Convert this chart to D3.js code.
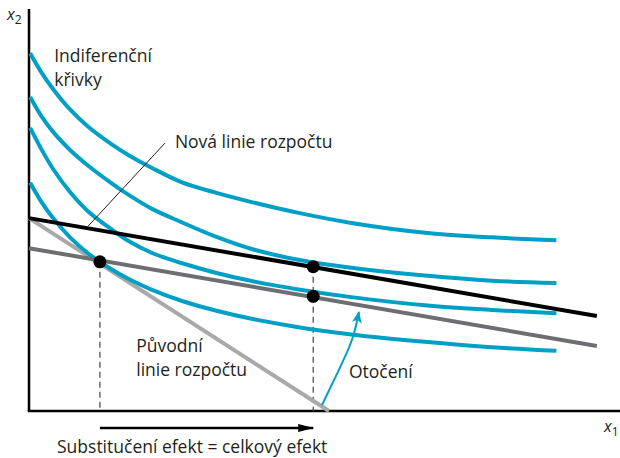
<!DOCTYPE html>
<html>
<head>
<meta charset="utf-8">
<script src="https://cdn.jsdelivr.net/npm/d3@7"></script>
<style>
  body { margin: 0; background: #fff; }
  text { font-family: "Open Sans", sans-serif; fill: #231f20; }
</style>
</head>
<body>
<div class="chart"></div>
<script>
var w = 620,
  h = 458,
  blue = '#00a0c6';

// shared x grid for the indifference curves (x1 units)
var curveX = [0.02, 0.2, 0.4, 0.7, 1.0, 1.4, 1.7, 2.1, 2.6, 3.2, 3.8, 4.6, 5.5, 6.8, 7.9, 9.0];
// x2 values of each indifference curve, top to bottom
var curveY1 = [8.92, 8.47, 8.05, 7.52, 7.10, 6.66, 6.38, 6.06, 5.71, 5.44, 5.21, 4.94, 4.69, 4.44, 4.33, 4.26];
var curveY2 = [7.83, 7.38, 6.98, 6.51, 6.13, 5.69, 5.39, 5.04, 4.71, 4.34, 4.04, 3.77, 3.57, 3.37, 3.25, 3.19];
var curveY3 = [7.06, 6.56, 6.06, 5.46, 4.99, 4.54, 4.24, 3.94, 3.69, 3.44, 3.24, 3.03, 2.84, 2.63, 2.52, 2.44];
var curveY4 = [5.69, 5.24, 4.83, 4.33, 3.94, 3.54, 3.29, 3.02, 2.75, 2.50, 2.30, 2.09, 1.91, 1.72, 1.59, 1.50];

// budget lines [x1, x2]
var newBudget = [[0, 4.81], [9.69, 2.37]];
var oldBudget = [[0, 4.81], [5.12, 0]];
var rotatedBudget = [[0, 4.06], [9.69, 1.62]];

// optimum points
var optima = [[1.21, 3.72], [4.85, 3.60], [4.85, 2.86]];

// rotation arrow
var rotationArrow = [[5.0, 0.15], [5.27, 0.97], [5.51, 1.77], [5.63, 2.47]];
// leader line for the new budget label
var leader = [[1.01, 4.61], [2.32, 6.68]];

var xS = d3.scaleLinear().domain([0, 10]).range([29, 615]);
var yS = d3.scaleLinear().domain([0, 10]).range([411, 10]);

var svg = d3.select('.chart')
  .append('svg')
  .attr('width', w)
  .attr('height', h);

var defs = svg.append('defs');
defs.append('marker')
  .attr('id', 'headBlack')
  .attr('markerUnits', 'userSpaceOnUse')
  .attr('viewBox', '0 0 16 10')
  .attr('refX', 15).attr('refY', 5)
  .attr('markerWidth', 16).attr('markerHeight', 10)
  .attr('orient', 'auto')
  .append('path')
  .attr('d', 'M0,1 L16,5 L0,9 Z')
  .attr('fill', '#000');
defs.append('marker')
  .attr('id', 'headBlue')
  .attr('markerUnits', 'userSpaceOnUse')
  .attr('viewBox', '0 0 12 10')
  .attr('refX', 11).attr('refY', 5)
  .attr('markerWidth', 12).attr('markerHeight', 10)
  .attr('orient', 'auto')
  .append('path')
  .attr('d', 'M0,0 L12,5 L0,10 L3,5 Z')
  .attr('fill', blue);

var line = d3.line()
  .x(function (d) { return xS(d[0]); })
  .y(function (d) { return yS(d[1]); });

var smooth = d3.line()
  .x(function (d) { return xS(d[0]); })
  .y(function (d) { return yS(d[1]); })
  .curve(d3.curveCatmullRom.alpha(0.5));

// axes
svg.append('line')
  .attr('x1', xS(0)).attr('x2', xS(0))
  .attr('y1', 9).attr('y2', yS(0))
  .attr('stroke', '#000').attr('stroke-width', 2.5);
svg.append('line')
  .attr('x1', xS(0) - 1.2).attr('x2', w)
  .attr('y1', yS(0)).attr('y2', yS(0))
  .attr('stroke', '#000').attr('stroke-width', 2.5);

// dashed drop lines
svg.selectAll('line.drop')
  .data(optima.slice(0, 2))
  .enter()
  .append('line')
  .attr('class', 'drop')
  .attr('x1', function (d) { return xS(d[0]); })
  .attr('x2', function (d) { return xS(d[0]); })
  .attr('y1', function (d) { return yS(d[1]); })
  .attr('y2', yS(0))
  .attr('stroke', '#444')
  .attr('stroke-width', 1.2)
  .attr('stroke-dasharray', '6,4');

// original budget line
svg.append('path')
  .attr('d', line(oldBudget))
  .attr('fill', 'none')
  .attr('stroke', '#a7a9ab')
  .attr('stroke-width', 4);

// indifference curves
var curves = [curveY1, curveY2, curveY3, curveY4];
svg.selectAll('path.ic')
  .data(curves)
  .enter()
  .append('path')
  .attr('class', 'ic')
  .attr('d', function (ys) {
    return smooth(curveX.map(function (x, i) { return [x, ys[i]]; }));
  })
  .attr('fill', 'none')
  .attr('stroke', blue)
  .attr('stroke-width', 4);

// rotated and new budget lines
svg.append('path')
  .attr('d', line(rotatedBudget))
  .attr('fill', 'none')
  .attr('stroke', '#6d6e71')
  .attr('stroke-width', 4);
svg.append('path')
  .attr('d', line(newBudget))
  .attr('fill', 'none')
  .attr('stroke', '#000')
  .attr('stroke-width', 4);

// leader line
svg.append('path')
  .attr('d', line(leader))
  .attr('stroke', '#231f20')
  .attr('stroke-width', 1);

// optimum dots
svg.selectAll('circle')
  .data(optima)
  .enter()
  .append('circle')
  .attr('cx', function (d) { return xS(d[0]); })
  .attr('cy', function (d) { return yS(d[1]); })
  .attr('r', 6.5)
  .attr('fill', '#000');

// rotation arrow
svg.append('path')
  .attr('d', d3.line()
    .x(function (d) { return xS(d[0]); })
    .y(function (d) { return yS(d[1]); })
    .curve(d3.curveNatural)(rotationArrow))
  .attr('fill', 'none')
  .attr('stroke', blue)
  .attr('stroke-width', 2)
  .attr('marker-end', 'url(#headBlue)');

// substitution effect arrow
svg.append('line')
  .attr('x1', xS(optima[0][0])).attr('x2', xS(optima[1][0]))
  .attr('y1', yS(0) + 17).attr('y2', yS(0) + 17)
  .attr('stroke', '#000')
  .attr('stroke-width', 2.5)
  .attr('marker-end', 'url(#headBlack)');

// labels
var fs = '17.5px';
function label(x, y, lines) {
  var t = svg.append('text')
    .attr('x', x).attr('y', y)
    .attr('font-size', fs);
  lines.forEach(function (s, i) {
    t.append('tspan')
      .attr('x', x)
      .attr('dy', i === 0 ? 0 : 24)
      .text(s);
  });
}
label(xS(0.43), 62, ['Indiferenční', 'křivky']);
label(xS(2.49), 148, ['Nová linie rozpočtu']);
label(xS(1.83), 352, ['Původní', 'linie rozpočtu']);
label(xS(5.46), 378, ['Otočení']);
label(57, 453, ['Substitučení efekt = celkový efekt']);

// axis titles
var x2 = svg.append('text').attr('x', 7).attr('y', 20).attr('font-size', '16px');
x2.append('tspan').attr('font-style', 'italic').text('x');
x2.append('tspan').attr('font-size', '12px').attr('dy', 4).text('2');
var x1 = svg.append('text').attr('x', 604).attr('y', 432).attr('font-size', '16px');
x1.append('tspan').attr('font-style', 'italic').text('x');
x1.append('tspan').attr('font-size', '12px').attr('dy', 4).text('1');
</script>
</body>
</html>
